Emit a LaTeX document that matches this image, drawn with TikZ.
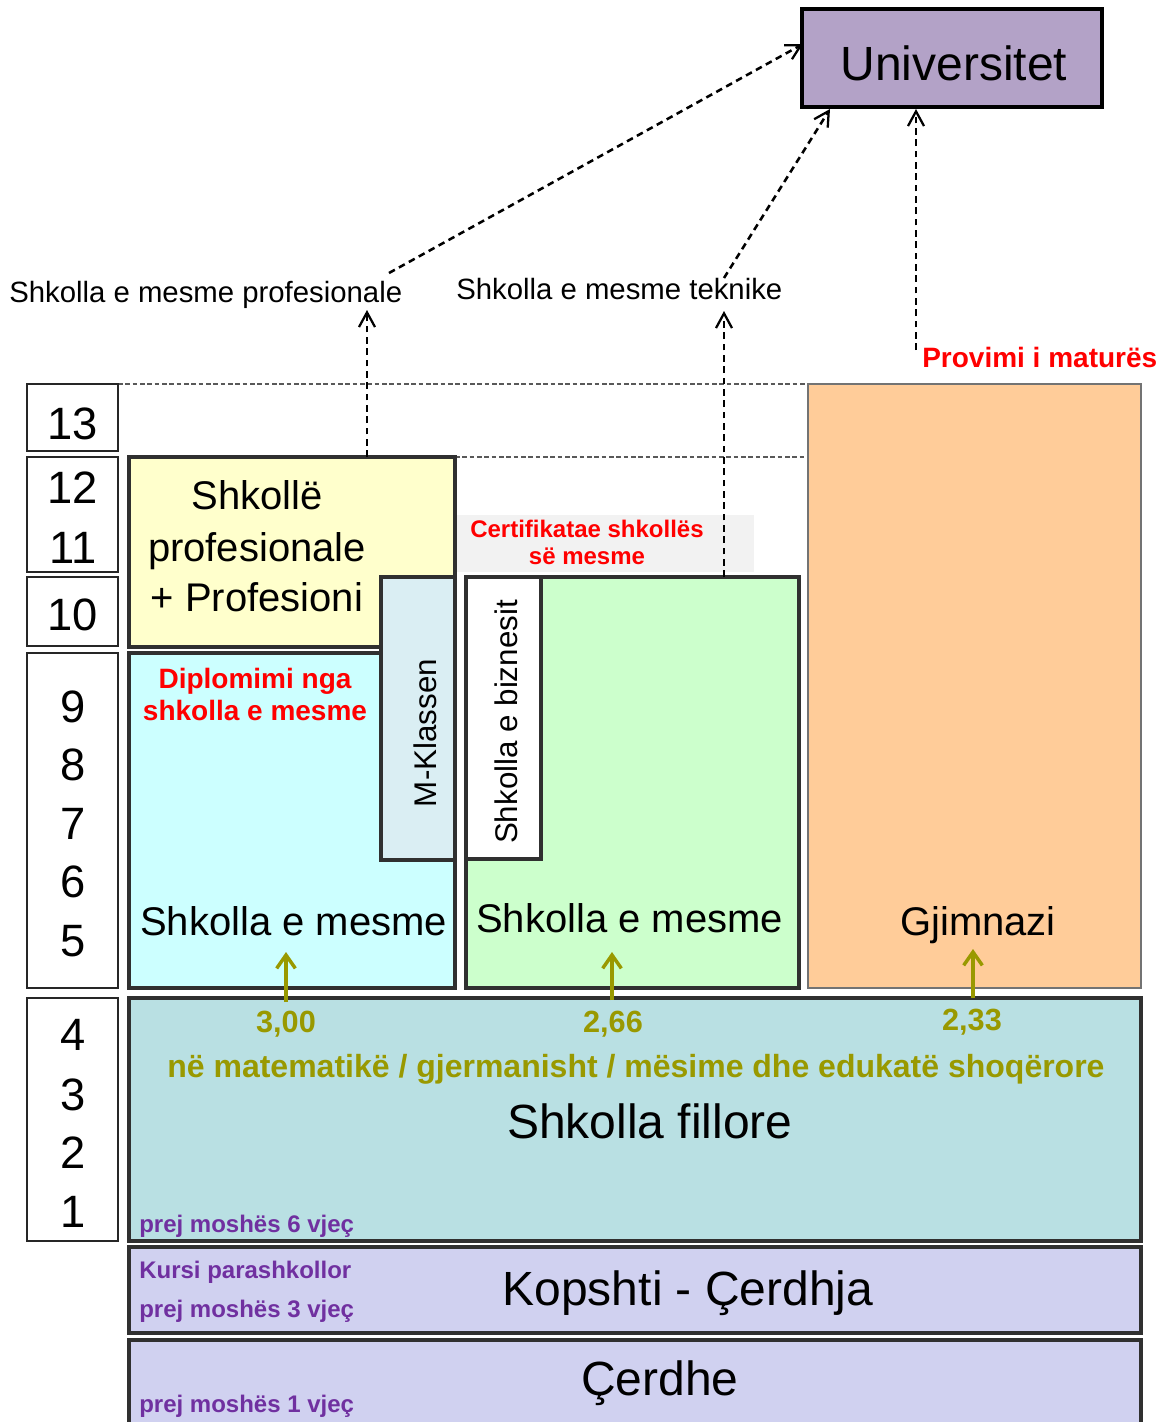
\documentclass[tikz,border=0pt]{standalone}
\usepackage{fontspec}
\setmainfont{Liberation Sans}
\usetikzlibrary{fit,arrows.meta}
\definecolor{univfill}{HTML}{B3A2C7}
\definecolor{yel}{HTML}{FFFFCC}
\definecolor{cya}{HTML}{CCFFFF}
\definecolor{mkl}{HTML}{DAEEF3}
\definecolor{grn}{HTML}{CCFFCC}
\definecolor{ora}{HTML}{FFCC99}
\definecolor{prim}{HTML}{B9E0E3}
\definecolor{kind}{HTML}{D0D1F0}
\definecolor{oliv}{HTML}{999900}
\definecolor{purp}{HTML}{7030A0}
\definecolor{redt}{HTML}{FF0000}
\definecolor{certbg}{HTML}{F2F2F2}
\definecolor{boxline}{HTML}{303030}
\begin{document}
\begin{tikzpicture}[x=0.75pt,y=-0.75pt,
  box/.style={draw=boxline, line width=2.4pt, inner sep=0pt},
  numbox/.style={draw=black!85, line width=2pt, fill=white, inner sep=0pt},
  txt/.style={inner sep=0pt, anchor=base},
  txtw/.style={inner sep=0pt, anchor=base west},
  f36/.style={font=\fontsize{36}{43}\selectfont},
  f34/.style={font=\fontsize{34}{40}\selectfont},
  f30/.style={font=\fontsize{30}{36}\selectfont},
  f22/.style={font=\fontsize{22}{26}\selectfont},
  rot/.style={font=\fontsize{23.5}{28}\selectfont, rotate=90, inner sep=0pt, anchor=base},
  redb/.style={font=\fontsize{21}{24}\bfseries\selectfont, text=redt},
  certb/.style={font=\fontsize{18}{21}\bfseries\selectfont, text=redt},
  olb/.style={font=\fontsize{24}{28}\bfseries\selectfont, text=oliv},
  valb/.style={font=\fontsize{23}{27}\bfseries\selectfont, text=oliv},
  purb/.style={font=\fontsize{18}{21}\bfseries\selectfont, text=purp},
  darr/.style={draw=black, line width=1.9pt, dash pattern=on 5pt off 3.5pt, -{Straight Barb[length=11pt,width=12pt,line width=1.7pt]}},
  oarr/.style={draw=oliv, line width=2.8pt, -{Straight Barb[length=10pt,width=14pt,line width=2.6pt]}},
  dotl/.style={draw=black!65, line width=1.9pt, dash pattern=on 3.5pt off 2pt}
]
\path[use as bounding box] (0,0) rectangle (1161,1422);
\clip (0,0) rectangle (1161,1422);

% dotted guide lines
\coordinate (g1a) at (118,384); \coordinate (g1b) at (807,384);
\coordinate (g2a) at (455,457); \coordinate (g2b) at (807,457);
\draw[dotl] (g1a) -- (g1b);
\draw[dotl] (g2a) -- (g2b);

% University
\node[box, draw=black, line width=2.6pt, fill=univfill, fit={(802,9) (1102,107)}] (univ) {};
\node[txt, f36] (univt) at (954,80) {Universitet};

% number column
\node[numbox, fit={(27,384) (118,451)}] (nb13) {};
\node[numbox, fit={(27,457) (118,572)}] (nb1211) {};
\node[numbox, fit={(27,577) (118,646)}] (nb10) {};
\node[numbox, fit={(27,653) (118,988)}] (nb95) {};
\node[numbox, fit={(27,998) (118,1241)}] (nb41) {};
\foreach \d/\y in {13/439,12/503,11/563,10/630,9/722,8/780,7/839,6/897,5/956,4/1050,3/1110,2/1168,1/1227}
  \node[txt, f34] (num\d) at (73,\y) {\d};

% secondary schools
\node[box, fill=yel, fit={(129,457) (455,647)}] (prof) {};
\node[txt, f30] (proft1) at (257,509) {Shkollë};
\node[txt, f30] (proft2) at (257,561) {profesionale};
\node[txt, f30] (proft3) at (257,611) {+ Profesioni};

\node[box, fill=cya, fit={(129,653) (455,988)}] (cyan) {};
\node[txt, redb] (dip1) at (255,688) {Diplomimi nga};
\node[txt, redb] (dip2) at (255,720) {shkolla e mesme};
\node[txtw, f30] (cyant) at (140,935) {Shkolla e mesme};

\node[box, fill=mkl, fit={(381,577) (455,860)}] (mk) {};
\node[rot] (mkt) at (436,733) {M-Klassen};

\node[inner sep=0pt, fill=certbg, fit={(457,515) (754,572)}] (cert) {};
\node[txt, certb] (cert1) at (587,537) {Certifikatae shkollës};
\node[txt, certb] (cert2) at (587,564) {së mesme};

\node[box, fill=grn, fit={(466,577) (799,988)}] (green) {};
\node[box, fill=white, fit={(466,577) (541,859)}] (biz) {};
\node[rot] (bizt) at (517,722) {Shkolla e biznesit};
\node[txtw, f30] (greent) at (476,932) {Shkolla e mesme};

\node[draw=black!55, line width=1.3pt, fill=ora, inner sep=0pt, fit={(808,384) (1141,988)}] (gym) {};
\node[txtw, f30] (gymt) at (900,935) {Gjimnazi};

% primary and pre-school
\node[box, fill=prim, fit={(129,998) (1141,1241)}] (primary) {};
\node[txt, valb] (v1) at (286,1032) {3,00};
\node[txt, valb] (v2) at (613,1032) {2,66};
\node[txt, valb] (v3) at (972,1030) {2,33};
\node[txt, olb] (subj) at (636,1077) {në matematikë / gjermanisht / mësime dhe edukatë shoqërore};
\node[txt, f36] (primt) at (650,1138) {Shkolla fillore};
\node[txtw, purb] (age6) at (139,1232) {prej moshës 6 vjeç};

\node[box, fill=kind, fit={(129,1247) (1141,1333)}] (kop) {};
\node[txtw, purb] (kurs) at (139,1278) {Kursi parashkollor};
\node[txtw, purb] (age3) at (139,1317) {prej moshës 3 vjeç};
\node[txt, f36] (kopt) at (688,1305) {Kopshti - Çerdhja};

\node[box, fill=kind, fit={(129,1340) (1141,1440)}] (cer) {};
\node[txt, f36] (cert) at (660,1395) {Çerdhe};
\node[txtw, purb] (age1) at (139,1412) {prej moshës 1 vjeç};

% olive arrows
\coordinate (o1a) at (286,1002); \coordinate (o1b) at (286,952);
\coordinate (o2a) at (612,1000); \coordinate (o2b) at (612,952);
\coordinate (o3a) at (973,998);  \coordinate (o3b) at (973,949);
\draw[oarr] (o1a) -- (o1b);
\draw[oarr] (o2a) -- (o2b);
\draw[oarr] (o3a) -- (o3b);

% labels and dashed connectors
\node[txtw, f22] (lblprof) at (9,302) {Shkolla e mesme profesionale};
\node[txtw, f22] (lbltek) at (456,299) {Shkolla e mesme teknike};
\node[txtw, redb] (lblmat) at (922,367) {Provimi i maturës};

\coordinate (d1a) at (367,457); \coordinate (d1b) at (367,310);
\coordinate (d2a) at (389,273); \coordinate (d2b) at (803,44);
\coordinate (d3a) at (724,577); \coordinate (d3b) at (724,311);
\coordinate (d4a) at (724,278); \coordinate (d4b) at (830,109);
\coordinate (d5a) at (916,350); \coordinate (d5b) at (916,109);
\draw[darr] (d1a) -- (d1b);
\draw[darr] (d2a) -- (d2b);
\draw[darr] (d3a) -- (d3b);
\draw[darr] (d4a) -- (d4b);
\draw[darr] (d5a) -- (d5b);
\end{tikzpicture}
\end{document}
